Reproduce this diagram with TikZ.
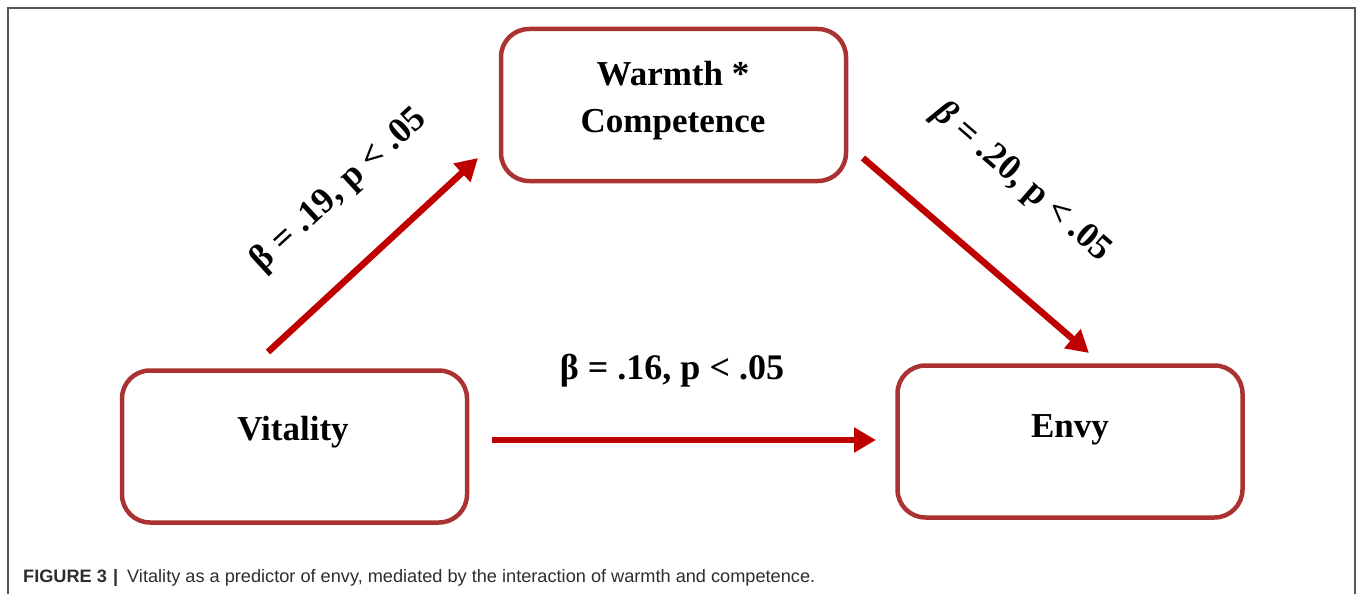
\documentclass[tikz,border=0pt]{standalone}
\usepackage{fontspec}
\usepackage{graphicx}
\setmainfont{Liberation Serif}
\setsansfont{Liberation Sans}
\usetikzlibrary{arrows.meta}
\definecolor{boxred}{RGB}{170,50,50}
\definecolor{arrred}{RGB}{190,0,0}
\definecolor{framegray}{RGB}{85,85,85}
\definecolor{capgray}{RGB}{45,45,45}
\begin{document}
\begin{tikzpicture}[x=1pt,y=-1pt,
  box/.style={draw=boxred, line width=4.5pt, rounded corners=28pt, inner sep=0pt, minimum width=345pt, minimum height=152pt},
  lbl/.style={font=\fontsize{35}{47}\selectfont\bfseries, align=center, inner sep=0pt},
  coef/.style={font=\fontsize{36}{40}\selectfont\bfseries, inner sep=0pt},
  arr/.style={draw=arrred, line width=6.5pt, -{Triangle[length=22pt,width=24pt]}},
  captext/.style={font=\sffamily\fontsize{18}{20}\selectfont, text=capgray, inner sep=0pt}]
\useasboundingbox (0,0) rectangle (1358,594);
\draw[framegray, line width=1.5pt] (8,594) -- (8,8) -- (1355,8) -- (1355,594);

\node[box] (warm) at (673.5,105) {};
\node[box] (vit) at (294.5,446.5) {};
\node[box] (envy) at (1070,441.5) {};

\node[lbl] (warmt) at (673,101) {Warmth *\\Competence};
\node[lbl, anchor=base] (vitt) at (293,440) {Vitality};
\node[lbl, anchor=base] (envyt) at (1070,437) {Envy};

\coordinate (a1s) at (268,352);
\coordinate (a1e) at (478,158);
\coordinate (a2s) at (863,158);
\coordinate (a2e) at (1089,353);
\coordinate (a3s) at (492,440);
\coordinate (a3e) at (876,440);
\draw[arr] (a1s) -- (a1e);
\draw[arr] (a2s) -- (a2e);
\draw[arr] (a3s) -- (a3e);

\node[coef, rotate=42.5] (c1) at (339,190) {β = .19, p < .05};
\node[coef, rotate=-41] (c2) at (1022,182) {\textit{β} = .20, p < .05};
\node[coef, anchor=base] (c3) at (672,379) {β = .16, p < .05};

\node[captext, anchor=base west] (caption) at (23,582) {\resizebox{792pt}{\height}{\textbf{FIGURE 3}\,\,\textbf{|}\,\,\,Vitality as a predictor of envy, mediated by the interaction of warmth and competence.}};
\end{tikzpicture}
\end{document}
